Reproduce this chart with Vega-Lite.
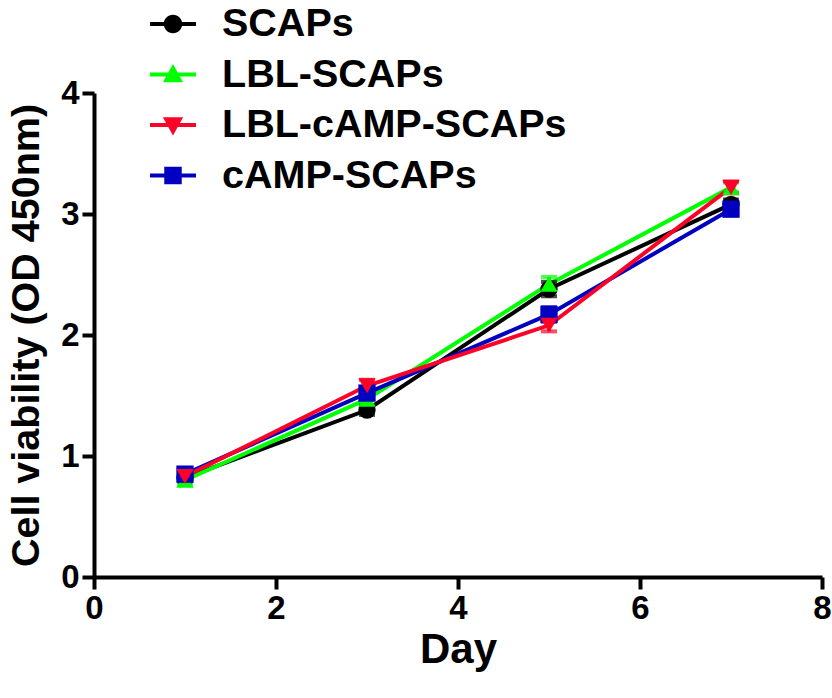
{
  "$schema": "https://vega.github.io/schema/vega-lite/v6.json",
  "autosize": "none",
  "width": 728,
  "height": 484,
  "padding": {"left": 94, "top": 93, "right": 10, "bottom": 121},
  "background": "white",
  "config": {
    "view": {"stroke": null},
    "font": "Liberation Sans",
    "axis": {
      "grid": false,
      "domainColor": "black",
      "domainWidth": 4,
      "tickColor": "black",
      "tickWidth": 4,
      "tickSize": 12,
      "labelFlush": false,
      "labelFont": "Liberation Sans",
      "labelFontWeight": "bold",
      "labelFontSize": 33,
      "labelColor": "black",
      "labelPadding": 3,
      "titleFont": "Liberation Sans",
      "titleFontWeight": "bold",
      "titleColor": "black"
    },
    "legend": {
      "orient": "none",
      "legendX": 56,
      "legendY": -92,
      "title": null,
      "symbolSize": 2116,
      "symbolStrokeWidth": 0,
      "symbolOpacity": 1,
      "labelFont": "Liberation Sans",
      "labelFontWeight": "bold",
      "labelFontSize": 39.5,
      "labelColor": "black",
      "labelOffset": 26,
      "rowPadding": 7.5,
      "labelLimit": 500
    }
  },
  "data": {
    "values": [
      {"series": "SCAPs", "day": 1, "od": 0.82, "lo": 0.79, "hi": 0.85},
      {"series": "SCAPs", "day": 3, "od": 1.38, "lo": 1.34, "hi": 1.42},
      {"series": "SCAPs", "day": 5, "od": 2.38, "lo": 2.32, "hi": 2.44},
      {"series": "SCAPs", "day": 7, "od": 3.08, "lo": 3.04, "hi": 3.12},
      {"series": "LBL-SCAPs", "day": 1, "od": 0.8, "lo": 0.76, "hi": 0.84},
      {"series": "LBL-SCAPs", "day": 3, "od": 1.47, "lo": 1.42, "hi": 1.52},
      {"series": "LBL-SCAPs", "day": 5, "od": 2.42, "lo": 2.36, "hi": 2.48},
      {"series": "LBL-SCAPs", "day": 7, "od": 3.22, "lo": 3.18, "hi": 3.26},
      {"series": "cAMP-SCAPs", "day": 1, "od": 0.85, "lo": 0.82, "hi": 0.88},
      {"series": "cAMP-SCAPs", "day": 3, "od": 1.52, "lo": 1.48, "hi": 1.56},
      {"series": "cAMP-SCAPs", "day": 5, "od": 2.17, "lo": 2.11, "hi": 2.23},
      {"series": "cAMP-SCAPs", "day": 7, "od": 3.04, "lo": 3.0, "hi": 3.08},
      {"series": "LBL-cAMP-SCAPs", "day": 1, "od": 0.83, "lo": 0.8, "hi": 0.86},
      {"series": "LBL-cAMP-SCAPs", "day": 3, "od": 1.58, "lo": 1.53, "hi": 1.63},
      {"series": "LBL-cAMP-SCAPs", "day": 5, "od": 2.08, "lo": 2.03, "hi": 2.13},
      {"series": "LBL-cAMP-SCAPs", "day": 7, "od": 3.22, "lo": 3.17, "hi": 3.27}
    ]
  },
  "encoding": {
    "x": {
      "field": "day", "type": "quantitative",
      "scale": {"domain": [0, 8], "nice": false},
      "axis": {"values": [0, 2, 4, 6, 8], "title": "Day", "titleFontSize": 42, "titlePadding": 4}
    }
  },
  "resolve": {
    "scale": {"shape": "independent", "color": "independent"},
    "legend": {"shape": "independent", "color": "independent"}
  },
  "layer": [
    {
      "layer": [
        {
          "mark": {"type": "line", "strokeWidth": 4},
          "encoding": {
            "y": {
              "field": "od", "type": "quantitative",
              "scale": {"domain": [0, 4], "nice": false},
              "axis": {"values": [0, 1, 2, 3, 4], "format": "d", "title": "Cell viability (OD 450nm)", "titleFontSize": 39.5, "titlePadding": 14}
            }
          }
        },
        {
          "mark": {"type": "errorbar", "thickness": 4, "ticks": {"size": 16, "thickness": 4}},
          "encoding": {
            "y": {"field": "lo", "type": "quantitative", "title": "Cell viability (OD 450nm)"},
            "y2": {"field": "hi"}
          }
        },
        {
          "mark": {"type": "point", "filled": true, "opacity": 1, "size": 300},
          "encoding": {
            "y": {"field": "od", "type": "quantitative", "title": "Cell viability (OD 450nm)"},
            "shape": {
              "field": "series", "type": "nominal",
              "scale": {
                "domain": ["SCAPs", "LBL-SCAPs", "LBL-cAMP-SCAPs", "cAMP-SCAPs"],
                "range": ["circle", "triangle-up", "triangle-down", "square"]
              },
              "legend": null
            }
          }
        }
      ],
      "encoding": {
        "color": {
          "field": "series", "type": "nominal",
          "scale": {
            "domain": ["SCAPs", "LBL-SCAPs", "LBL-cAMP-SCAPs", "cAMP-SCAPs"],
            "range": ["#000000", "#00ff00", "#ff0026", "#0000c0"]
          },
          "legend": null
        }
      }
    },
    {
      "transform": [{"filter": "datum.day > 100"}],
      "mark": {"type": "point", "filled": true, "opacity": 1},
      "encoding": {
        "y": {"field": "od", "type": "quantitative", "title": "Cell viability (OD 450nm)"},
        "color": {
          "field": "series", "type": "nominal",
          "scale": {
            "domain": ["SCAPs", "LBL-SCAPs", "LBL-cAMP-SCAPs", "cAMP-SCAPs"],
            "range": ["#000000", "#00ff00", "#ff0026", "#0000c0"]
          },
          "legend": {}
        },
        "shape": {
          "field": "series", "type": "nominal",
          "scale": {
            "domain": ["SCAPs", "LBL-SCAPs", "LBL-cAMP-SCAPs", "cAMP-SCAPs"],
            "range": [
              "M-1,-0.09H1V0.09H-1Z M0.4,0A0.4,0.4 0 1,1 -0.4,0A0.4,0.4 0 1,1 0.4,0Z",
              "M-1,-0.09H1V0.09H-1Z M0,-0.46L0.44,0.34L-0.44,0.34Z",
              "M-1,-0.09H1V0.09H-1Z M-0.44,-0.34L0.44,-0.34L0,0.46Z",
              "M-1,-0.09H1V0.09H-1Z M-0.38,-0.38H0.38V0.38H-0.38Z"
            ]
          },
          "legend": {}
        }
      }
    }
  ]
}
